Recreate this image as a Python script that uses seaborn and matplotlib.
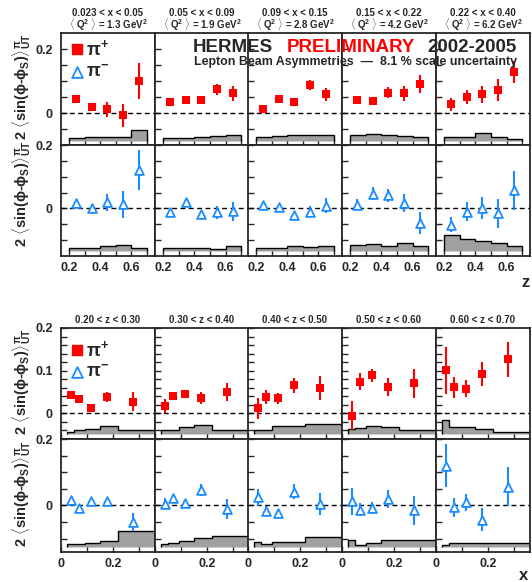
import numpy as np
import matplotlib as mpl
from matplotlib import pyplot as plt
import seaborn as sns

sns.set_style('ticks')
mpl.rc('font', family=['Liberation Sans', 'DejaVu Sans'], weight='bold')
mpl.rc('mathtext', fontset='custom', rm='Liberation Sans:bold', it='Liberation Sans:bold',
       bf='Liberation Sans:bold', sf='Liberation Sans:bold')

RED = '#ff0000'
BLUE = '#1a8cff'
GREY = '#a0a0a0'

# ---- z dependence, one panel per x bin ----
x_bin_labels = ['0.023 < x < 0.05', '0.05 < x < 0.09', '0.09 < x < 0.15', '0.15 < x < 0.22', '0.22 < x < 0.40']
q2_labels = ['1.3', '1.9', '2.8', '4.2', '6.2']
z_mean = [0.245, 0.345, 0.445, 0.545, 0.645]
z_edges = [0.2, 0.3, 0.4, 0.5, 0.6, 0.7]

pip_z = [[0.043, 0.019, 0.012, -0.007, 0.100],
         [0.033, 0.042, 0.040, 0.074, 0.061],
         [0.014, 0.045, 0.035, 0.087, 0.058],
         [0.040, 0.038, 0.064, 0.061, 0.091],
         [0.027, 0.050, 0.058, 0.072, 0.128]]
pip_z_err = [[0.005, 0.012, 0.023, 0.036, 0.056],
             [0.006, 0.007, 0.013, 0.018, 0.024],
             [0.006, 0.006, 0.011, 0.015, 0.019],
             [0.012, 0.010, 0.017, 0.022, 0.027],
             [0.021, 0.021, 0.026, 0.033, 0.034]]
pip_z_sys = [[0.008, 0.011, 0.011, 0.011, 0.035],
             [0.008, 0.008, 0.011, 0.015, 0.017],
             [0.011, 0.014, 0.018, 0.018, 0.018],
             [0.017, 0.020, 0.018, 0.016, 0.013],
             [0.011, 0.011, 0.023, 0.011, 0.007]]

pim_z = [[0.017, 0.002, 0.020, 0.013, 0.121],
         [-0.010, 0.020, -0.019, -0.012, -0.009],
         [0.010, 0.004, -0.022, -0.010, 0.009],
         [0.012, 0.047, 0.041, 0.018, -0.047],
         [-0.051, -0.010, 0.002, -0.015, 0.057]]
pim_z_err = [[0.008, 0.012, 0.027, 0.043, 0.064],
             [0.007, 0.007, 0.010, 0.020, 0.030],
             [0.006, 0.007, 0.010, 0.018, 0.023],
             [0.017, 0.019, 0.021, 0.029, 0.035],
             [0.024, 0.030, 0.034, 0.046, 0.061]]
pim_z_sys = [[0.007, 0.007, 0.014, 0.019, 0.009],
             [0.007, 0.007, 0.007, 0.006, 0.013],
             [0.009, 0.009, 0.015, 0.011, 0.014],
             [0.018, 0.021, 0.015, 0.025, 0.013],
             [0.048, 0.036, 0.030, 0.023, 0.015]]

# ---- x dependence, one panel per z bin ----
z_bin_labels = ['0.20 < z < 0.30', '0.30 < z < 0.40', '0.40 < z < 0.50', '0.50 < z < 0.60', '0.60 < z < 0.70']
x_mean = [0.037, 0.068, 0.113, 0.178, 0.276]
x_edges = [0.023, 0.05, 0.09, 0.15, 0.22, 0.40]

pip_x = [[0.043, 0.033, 0.013, 0.039, 0.027],
         [0.017, 0.041, 0.045, 0.036, 0.050],
         [0.012, 0.039, 0.035, 0.066, 0.059],
         [-0.006, 0.074, 0.089, 0.062, 0.071],
         [0.101, 0.061, 0.058, 0.092, 0.127]]
pip_x_err = [[0.009, 0.005, 0.006, 0.012, 0.022],
             [0.016, 0.010, 0.010, 0.015, 0.022],
             [0.024, 0.016, 0.012, 0.018, 0.028],
             [0.034, 0.020, 0.015, 0.022, 0.034],
             [0.055, 0.024, 0.020, 0.028, 0.041]]
pip_x_sys = [[0.0055, 0.008, 0.012, 0.018, 0.008],
             [0.0095, 0.010, 0.015, 0.020, 0.010],
             [0.009, 0.009, 0.018, 0.018, 0.023],
             [0.012, 0.014, 0.018, 0.015, 0.008],
             [0.032, 0.0165, 0.0165, 0.012, 0.0055]]

pim_x = [[0.017, -0.007, 0.012, 0.014, -0.050],
         [0.005, 0.022, 0.007, 0.047, -0.010],
         [0.024, -0.016, -0.023, 0.042, 0.005],
         [0.012, -0.013, -0.008, 0.019, -0.015],
         [0.120, -0.006, 0.010, -0.043, 0.056]]
pim_x_err = [[0.007, 0.007, 0.007, 0.008, 0.026],
             [0.016, 0.008, 0.008, 0.018, 0.030],
             [0.025, 0.015, 0.009, 0.022, 0.034],
             [0.042, 0.019, 0.018, 0.028, 0.045],
             [0.064, 0.028, 0.026, 0.035, 0.059]]
pim_x_sys = [[0.007, 0.007, 0.012, 0.017, 0.047],
             [0.007, 0.010, 0.017, 0.027, 0.033],
             [0.015, 0.007, 0.013, 0.013, 0.028],
             [0.020, 0.005, 0.010, 0.020, 0.020],
             [0.006, 0.010, 0.010, 0.011, 0.012]]

W, H = 532, 582
fig = plt.figure(figsize=(W / 100, H / 100), dpi=100)

col_left = [61, 155, 248, 342, 436]
col_w = 94
row_h = 112

ylabel = r'2 $\langle$sin($\phi$-$\phi_S$)$\rangle^{\pi}_{UT}$'


def add_panel(left, top, w, h):
    return fig.add_axes([left / W, 1 - (top + h) / H, w / W, h / H])


def draw_panel(ax, xs, ys, errs, edges, sys, base, pos):
    ax.stairs(base + np.array(sys), edges, baseline=base, fill=True,
              facecolor=GREY, edgecolor='black', linewidth=1, zorder=1)
    ax.axhline(0, color='black', ls=(0, (3.5, 2.5)), lw=1, zorder=1)
    color = RED if pos else BLUE
    ax.errorbar(xs, ys, yerr=errs, fmt='none', ecolor=color, elinewidth=1.5, capsize=0, zorder=2)
    if pos:
        sns.scatterplot(x=xs, y=ys, ax=ax, marker='s', s=30, color=RED, edgecolor=RED,
                        linewidth=0, legend=False, zorder=3)
    else:
        sns.scatterplot(x=xs, y=ys, ax=ax, marker='^', s=40, color='white', edgecolor=BLUE,
                        linewidth=1.3, legend=False, zorder=3)


def style_axes(ax, xlim, xticks, xlabels, ylim, yticks, ylabels, first, show_x):
    ax.set_xlim(*xlim)
    ax.set_ylim(*ylim)
    ax.set_xticks(xticks)
    ax.set_yticks(yticks)
    ax.set_xticklabels(xlabels if show_x else [''] * len(xticks))
    ax.set_yticklabels(ylabels if first else [''] * len(yticks))
    ax.tick_params(direction='in', length=4.5, width=1, labelsize=9, top=False, right=False)
    ax.tick_params(axis='y', pad=6)
    ax.tick_params(axis='x', pad=4)
    for sp in ax.spines.values():
        sp.set_linewidth(1.3)
        sp.set_visible(True)


def legend(ax, y_plus, y_minus):
    ax.scatter([0.17], [y_plus], transform=ax.transAxes, marker='s', s=55, color=RED, zorder=4)
    ax.scatter([0.17], [y_minus], transform=ax.transAxes, marker='^', s=60, facecolor='white',
               edgecolor=BLUE, linewidth=1.3, zorder=4)
    ax.text(0.27, y_plus, r'$\pi^{+}$', transform=ax.transAxes, fontsize=13, va='center')
    ax.text(0.27, y_minus, r'$\pi^{-}$', transform=ax.transAxes, fontsize=13, va='center')


z_ticks = [0.2, 0.3, 0.4, 0.5, 0.6, 0.7]
z_tlabels = ['0.2', '', '0.4', '', '0.6', '']
x_ticks = [0.0, 0.1, 0.2, 0.3]
x_tlabels = ['0', '', '0.2', '']

# top group: rows at 33 and 145
for i in range(5):
    ax = add_panel(col_left[i], 33, col_w, row_h)
    draw_panel(ax, z_mean, pip_z[i], pip_z_err[i], z_edges, pip_z_sys[i], -0.087, True)
    style_axes(ax, (0.15, 0.75), z_ticks, z_tlabels, (-0.1, 0.25),
               [-0.05, 0, 0.05, 0.1, 0.15, 0.2], ['', '0', '', '', '', '0.2'], i == 0, False)
    ax.text(0.5, 1 + 20 / row_h, x_bin_labels[i], transform=ax.transAxes, ha='center', va='center', fontsize=7)
    ax.text(0.5, 1 + 8 / row_h, r'$\langle$ Q$^{2}$ $\rangle$ = ' + q2_labels[i] + r' GeV$^{2}$',
            transform=ax.transAxes, ha='center', va='center', fontsize=7)
    if i == 0:
        legend(ax, 0.857, 0.652)

    ax = add_panel(col_left[i], 145, col_w, row_h - 1)
    draw_panel(ax, z_mean, pim_z[i], pim_z_err[i], z_edges, pim_z_sys[i], -0.133, False)
    style_axes(ax, (0.15, 0.75), z_ticks, z_tlabels, (-0.15, 0.2),
               [-0.1, -0.05, 0, 0.05, 0.1, 0.15, 0.2], ['', '', '0', '', '', '', '0.2'], i == 0, True)

# bottom group: rows at 328 and 439
for i in range(5):
    ax = add_panel(col_left[i], 328, col_w, row_h - 1)
    draw_panel(ax, x_mean, pip_x[i], pip_x_err[i], x_edges, pip_x_sys[i], -0.048, True)
    yt = list(np.round(np.arange(-0.04, 0.201, 0.02), 2))
    yl = ['0' if v == 0 else ('0.1' if v == 0.1 else ('0.2' if v == 0.2 else '')) for v in yt]
    style_axes(ax, (0, 0.36), x_ticks, x_tlabels, (-0.06, 0.2), yt, yl, i == 0, False)
    ax.text(0.5, 1 + 8 / row_h, z_bin_labels[i], transform=ax.transAxes, ha='center', va='center', fontsize=7)
    if i == 0:
        legend(ax, 0.80, 0.60)

    ax = add_panel(col_left[i], 439, col_w, row_h + 1)
    draw_panel(ax, x_mean, pim_x[i], pim_x_err[i], x_edges, pim_x_sys[i], -0.124, False)
    style_axes(ax, (0, 0.36), x_ticks, x_tlabels, (-0.14, 0.2),
               [-0.1, -0.05, 0, 0.05, 0.1, 0.15, 0.2], ['', '', '0', '', '', '', '0.2'], i == 0, True)

# y labels, one per row
for top in [33, 140, 328, 440]:
    fig.text(22 / W, 1 - top / H, ylabel, rotation=90, ha='center', va='top', fontsize=10.5)

fig.text(526 / W, 1 - 282 / H, 'z', ha='center', va='center', fontsize=12)
fig.text(524 / W, 1 - 576 / H, 'x', ha='center', va='center', fontsize=12)

# experiment tag
fig.text(193 / W, 1 - 52 / H, 'HERMES', ha='left', va='baseline', fontsize=13.5)
fig.text(287 / W, 1 - 52 / H, 'PRELIMINARY', ha='left', va='baseline', fontsize=13.5, color=RED)
fig.text(427 / W, 1 - 52 / H, '2002-2005', ha='left', va='baseline', fontsize=13.5)
fig.text(194 / W, 1 - 64.5 / H, 'Lepton Beam Asymmetries  \u2014  8.1 % scale uncertainty',
         ha='left', va='baseline', fontsize=8.9)

fig.savefig('out.png', dpi=100)
